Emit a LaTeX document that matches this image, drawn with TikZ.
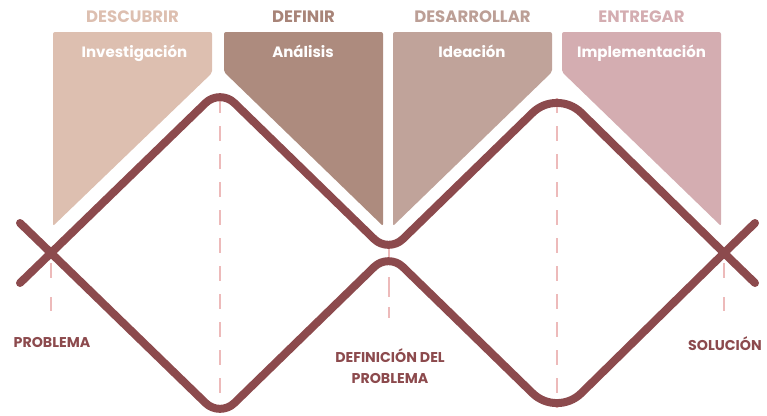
\documentclass[tikz,border=0pt]{standalone}
\usepackage{fontspec}
\setmainfont{Poppins}
\definecolor{maroon}{HTML}{8C4A4D}
\definecolor{dashpink}{HTML}{EDBABA}
\definecolor{pone}{HTML}{DDBFB0}
\definecolor{ptwo}{HTML}{AD8B7E}
\definecolor{pthree}{HTML}{C0A39A}
\definecolor{pfour}{HTML}{D4ADB1}
\definecolor{tone}{HTML}{DDBFB0}
\definecolor{ttwo}{HTML}{A88478}
\definecolor{tthree}{HTML}{BC9F96}
\definecolor{tfour}{HTML}{D4ADB1}
\tikzset{
  mainline/.style={draw=maroon, line width=8pt, line cap=round, line join=round},
  guide/.style={draw=dashpink, line width=2pt, dash pattern=on 15pt off 13pt},
  panel/.style={rounded corners=2pt},
  title/.style={anchor=base, font=\fontsize{16.5}{19}\selectfont\bfseries, inner sep=0pt},
  sub/.style={anchor=base, font=\fontsize{15}{18}\selectfont\bfseries, text=white, inner sep=0pt},
  lab/.style={anchor=base, font=\fontsize{14.2}{17}\selectfont\bfseries, text=maroon, inner sep=0pt},
}
\begin{document}
\begin{tikzpicture}[x=1pt,y=-1pt]
\useasboundingbox (0,0) rectangle (767,415);
% key coordinates
\coordinate (L) at (51,253);
\coordinate (R) at (724,253);
\coordinate (P1) at (220,89);
\coordinate (P2) at (557,89);
\coordinate (V1) at (220,417);
\coordinate (V2) at (557,417);
\coordinate (M) at (388.5,253);
\coordinate (ul) at (20,223);
\coordinate (ll) at (20,283);
\coordinate (ur) at (755,223);
\coordinate (lr) at (755,283);
% panels
\fill[pone, panel] (53,32) -- (212,32) -- (212,73) -- (53,226) -- cycle;
\fill[ptwo, panel] (224,32) -- (383,32) -- (383,226) -- (224,72) -- cycle;
\fill[pthree, panel] (393,32) -- (552,32) -- (552,72) -- (393,226) -- cycle;
\fill[pfour, panel] (562,32) -- (721,32) -- (721,226) -- (562,72) -- cycle;
% titles
\node[title, text=tone] (t1) at (132.5,22) {DESCUBRIR};
\node[title, text=ttwo] (t2) at (303.5,22) {DEFINIR};
\node[title, text=tthree] (t3) at (472.5,22) {DESARROLLAR};
\node[title, text=tfour] (t4) at (641.5,22) {ENTREGAR};
\node[sub] (s1) at (134.5,57) {Investigación};
\node[sub] (s2) at (303,57) {Análisis};
\node[sub] (s3) at (472,57) {Ideación};
\node[sub] (s4) at (641.5,57) {Implementación};
% guides
\draw[guide, dash pattern=on 15pt off 19pt] (51,263) -- (51,311);
\draw[guide] (220,98) -- (220,408);
\draw[guide, dash pattern=on 11pt off 20pt on 20pt off 10pt] (388.5,246) -- (388.5,322);
\draw[guide] (557,98) -- (557,408);
\draw[guide, dash pattern=on 15pt off 19pt] (724,263) -- (724,311);
% main lines
\draw[mainline, rounded corners=20pt] (ll) -- (L) -- (P1) -- (M) [rounded corners=34pt] -- (P2) [rounded corners=20pt] -- (R) -- (lr);
\draw[mainline, rounded corners=20pt] (ul) -- (L) -- (V1) -- (M) [rounded corners=34pt] -- (V2) [rounded corners=20pt] -- (R) -- (ur);
% bottom labels
\node[lab] (b1) at (52,347) {PROBLEMA};
\node[lab] (b2) at (390,362) {DEFINICIÓN DEL};
\node[lab] (b3) at (390,383.5) {PROBLEMA};
\node[lab] (b4) at (725,350) {SOLUCIÓN};
\end{tikzpicture}
\end{document}
